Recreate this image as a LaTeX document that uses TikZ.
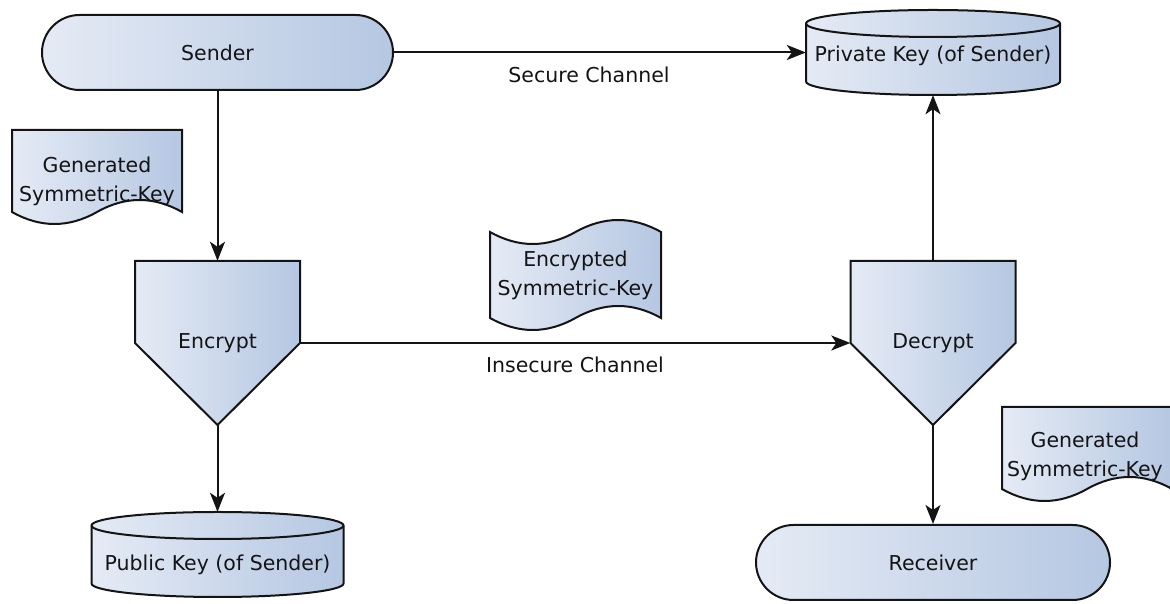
\documentclass[tikz,border=0pt]{standalone}
\usepackage{fontspec}
\setmainfont{DejaVu Sans}
\usetikzlibrary{arrows.meta}
\definecolor{shlight}{RGB}{229,235,245}
\definecolor{shdark}{RGB}{181,199,226}
\definecolor{ink}{RGB}{20,20,20}
\begin{document}
\begin{tikzpicture}[x=1pt,y=1pt,
  shp/.style={draw=ink, line width=2pt, left color=shlight, right color=shdark},
  txt/.style={font=\fontsize{20.5}{29}\selectfont, text=ink, align=center, inner sep=0pt},
  conn/.style={draw=ink, line width=2pt, -{Stealth[length=19pt,width=15pt,inset=5pt]}},
  ]
\useasboundingbox (0,0) rectangle (1170,604);

% Encrypt / Decrypt pentagons
\path[shp] (135,343) -- (300,343) -- (300,261) -- (217.5,179) -- (135,261) -- cycle;
\path[shp] (850.5,343) -- (1015.5,343) -- (1015.5,261) -- (933,179) -- (850.5,261) -- cycle;

% Private key cylinder
\path[shp] (806,580.5) -- (806,522.5) arc[start angle=180, end angle=360, x radius=127pt, y radius=13.5pt]
  -- (1060,580.5) arc[start angle=0, end angle=180, x radius=127pt, y radius=13.5pt] -- cycle;
\draw[draw=ink, line width=2pt] (806,580.5) arc[start angle=180, end angle=360, x radius=127pt, y radius=13.5pt];

% Public key cylinder
\path[shp] (91.5,78.5) -- (91.5,20.5) arc[start angle=180, end angle=360, x radius=126pt, y radius=13.5pt]
  -- (343.5,78.5) arc[start angle=0, end angle=180, x radius=126pt, y radius=13.5pt] -- cycle;
\draw[draw=ink, line width=2pt] (91.5,78.5) arc[start angle=180, end angle=360, x radius=126pt, y radius=13.5pt];

% Documents
\path[shp] (12,474) -- (182,474) -- (182,392) .. controls (153.7,408) and (125.3,408) .. (97,392)
  .. controls (68.7,376) and (40.3,376) .. (12,392) -- cycle;
\path[shp] (1002,197) -- (1172,197) -- (1172,115) .. controls (1143.7,131) and (1115.3,131) .. (1087,115)
  .. controls (1058.7,99) and (1030.3,99) .. (1002,115) -- cycle;

% Tape
\path[shp] (490,372) .. controls (518.5,356) and (547,356) .. (575.5,372)
  .. controls (604,388) and (632.5,388) .. (661,372) -- (661,286)
  .. controls (632.5,302) and (604,302) .. (575.5,286)
  .. controls (547,270) and (518.5,270) .. (490,286) -- cycle;

% Nodes
\node[shp, txt, rounded corners=37.5pt, minimum width=351pt, minimum height=75pt] (sender) at (217.5,551.5) {Sender};
\node[shp, txt, rounded corners=37.5pt, minimum width=354pt, minimum height=75pt] (rcv) at (933,41.5) {Receiver};
\node[txt, minimum width=165pt, minimum height=164pt] (enc) at (217.5,261) {Encrypt};
\node[txt, minimum width=165pt, minimum height=164pt] (dec) at (933,261) {Decrypt};
\node[txt, minimum width=254pt, minimum height=85pt] (pk) at (933,551.5) {\raisebox{-3pt}[\height][\depth]{Private Key (of Sender)}};
\node[txt, minimum width=252pt, minimum height=85pt] (pub) at (217.5,49.5) {\raisebox{-10pt}[\height][\depth]{Public Key (of Sender)}};
\node[txt] (gen1) at (97,423) {Generated\\Symmetric-Key};
\node[txt] (gen2) at (1085,148) {Generated\\Symmetric-Key};
\node[txt] (enck) at (575.5,328.5) {Encrypted\\Symmetric-Key};
\node[txt] (seclbl) at (589,529) {Secure Channel};
\node[txt] (inseclbl) at (575,239) {Insecure Channel};

% Connectors
\draw[conn] (sender.east) -- (pk.west);
\draw[conn] (sender.south) -- (enc.north);
\draw[conn] (enc.east) -- (dec.west);
\draw[conn] (enc.south) -- (pub.north);
\draw[conn] (dec.north) -- (pk.south);
\draw[conn] (dec.south) -- (rcv.north);
\end{tikzpicture}
\end{document}
